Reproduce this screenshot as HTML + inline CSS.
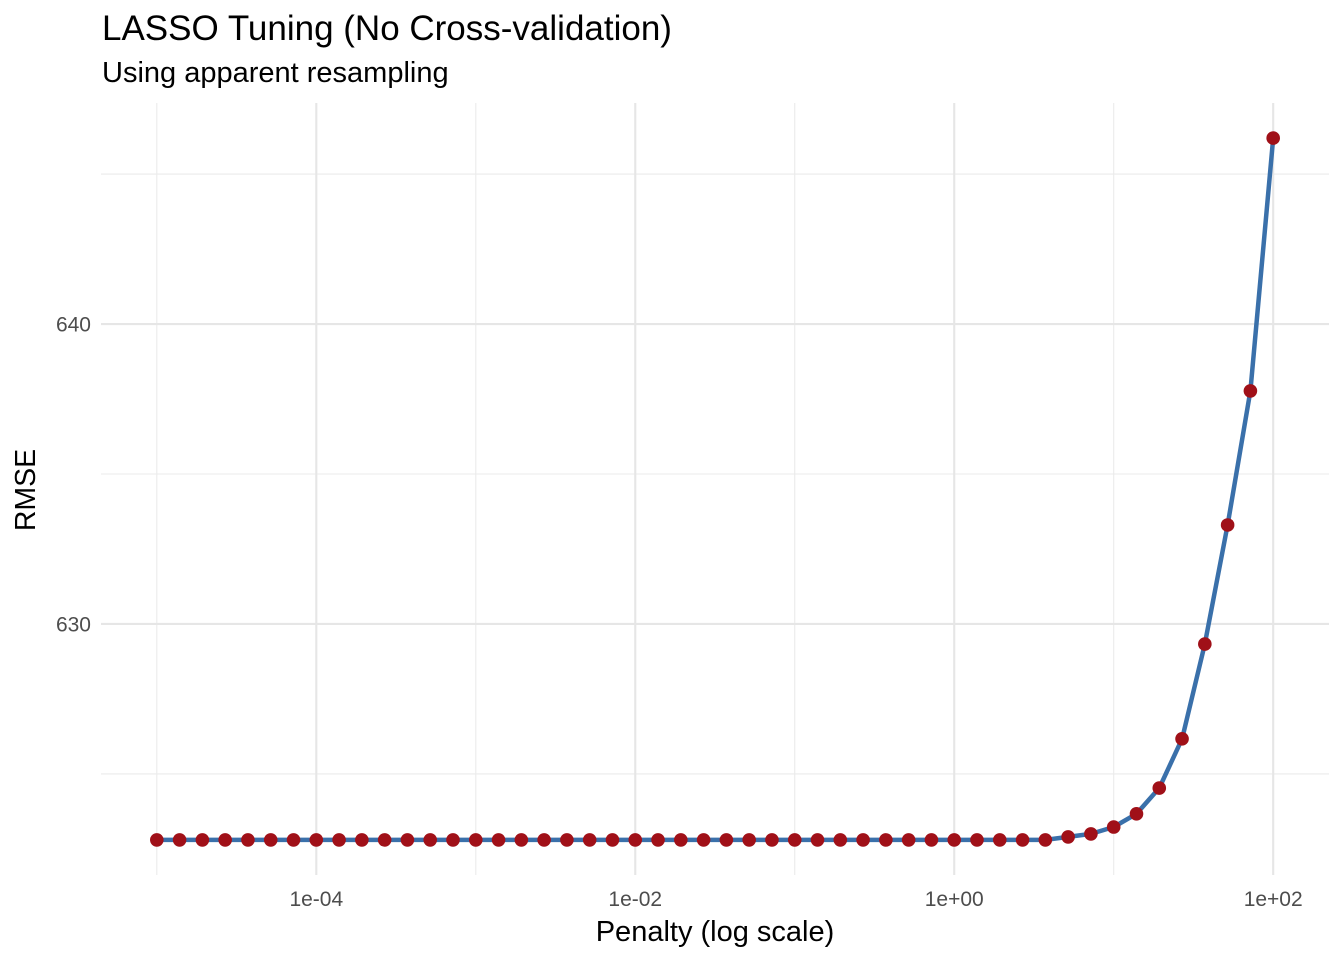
<!DOCTYPE html>
<html><head><meta charset="utf-8"><style>
body{margin:0;background:#fff}
text{font-family:"Liberation Sans",Arial,sans-serif}
</style></head><body>
<svg id="chart" width="1344" height="960" xmlns="http://www.w3.org/2000/svg">
<text x="102" y="40" font-size="35" fill="#000">LASSO Tuning (No Cross-validation)</text>
<text x="102" y="82" font-size="29" fill="#000">Using apparent resampling</text>
<g id="grid"></g>
<g id="series"></g>
<g id="axes"></g>
<text x="715" y="941" font-size="29" text-anchor="middle" fill="#000">Penalty (log scale)</text>
<text transform="translate(35,490) rotate(-90)" font-size="28.5" text-anchor="middle" fill="#000">RMSE</text>
</svg>
<script>
const logPenalty = [];
for (let i = 0; i < 50; i++) logPenalty.push(-5 + i * 7 / 49);
const rmse = [622.8,622.8,622.8,622.8,622.8,622.8,622.8,622.8,622.8,622.8,
622.8,622.8,622.8,622.8,622.8,622.8,622.8,622.8,622.8,622.8,
622.8,622.8,622.8,622.8,622.8,622.8,622.8,622.8,622.8,622.8,
622.8,622.8,622.8,622.8,622.8,622.8,622.8,622.8,622.8,622.8,
622.83,622.9,623.0,623.23,623.67,624.53,626.17,629.33,633.3,637.77,646.2];
rmse.splice(40,1);
const xTickVals = [-4,-2,0,2];
const xTickLabels = ["1e-04","1e-02","1e+00","1e+02"];
const xMinorVals = [-5,-3,-1,1];
const yTickVals = [630,640];
const yMinorVals = [625,635,645];

const NS="http://www.w3.org/2000/svg";
const L=101,R=1329,T=103,B=875;
const xMin=-5.35,xMax=2.35,yMin=621.63,yMax=647.37;
const xs=v=>L+(v-xMin)/(xMax-xMin)*(R-L);
const ys=v=>B-(v-yMin)/(yMax-yMin)*(B-T);
function mk(tag,attrs,parent){const e=document.createElementNS(NS,tag);for(const k in attrs)e.setAttribute(k,attrs[k]);parent.appendChild(e);return e;}
const grid=document.getElementById('grid'),axes=document.getElementById('axes'),ser=document.getElementById('series');
yMinorVals.forEach(v=>{const e=mk('line',{x1:L,x2:R,y1:ys(v),y2:ys(v),stroke:'#ebebeb','stroke-width':1.1},grid);

});
xMinorVals.forEach(v=>{const e=mk('line',{x1:xs(v),x2:xs(v),y1:T,y2:B,stroke:'#ebebeb','stroke-width':1.1},grid);

});
yTickVals.forEach(v=>{const e=mk('line',{x1:L,x2:R,y1:ys(v),y2:ys(v),stroke:'#e6e6e6','stroke-width':2.1},grid);


const t=mk('text',{x:L-10,y:ys(v)+7.5,'font-size':21,'text-anchor':'end',fill:'#4d4d4d'},axes);t.textContent=v;

});
xTickVals.forEach((v,i)=>{const e=mk('line',{x1:xs(v),x2:xs(v),y1:T,y2:B,stroke:'#e6e6e6','stroke-width':2.1},grid);


const t=mk('text',{x:xs(v),y:906,'font-size':21,'text-anchor':'middle',fill:'#4d4d4d'},axes);t.textContent=xTickLabels[i];

});
const pts=logPenalty.map((v,i)=>xs(v).toFixed(1)+','+ys(rmse[i]).toFixed(1)).join(' ');
const line=mk('polyline',{points:pts,fill:'none',stroke:'#3a70aa','stroke-width':4.5,'stroke-linejoin':'round'},ser);


logPenalty.forEach((v,i)=>{const c=mk('circle',{cx:xs(v),cy:ys(rmse[i]),r:6.8,fill:'#a01018'},ser);

});
</script>
</body></html>
